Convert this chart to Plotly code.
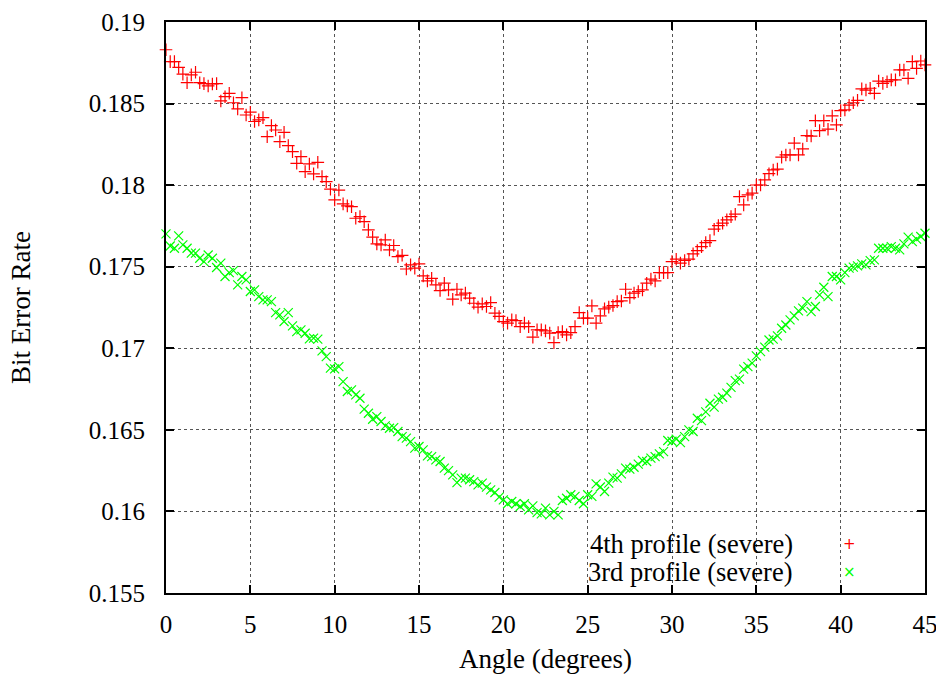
import plotly.graph_objects as go

angles = [i * 0.25 for i in range(181)]

ber_4th = [
    0.18830, 0.18757, 0.18757, 0.18722, 0.18680, 0.18628, 0.18676, 0.18692, 0.18628, 0.18622,
    0.18608, 0.18620, 0.18622, 0.18516, 0.18542, 0.18563, 0.18505, 0.18467, 0.18536, 0.18430,
    0.18447, 0.18390, 0.18400, 0.18414, 0.18297, 0.18365, 0.18338, 0.18267, 0.18324, 0.18242,
    0.18205, 0.18134, 0.18175, 0.18083, 0.18130, 0.18069, 0.18140, 0.18052, 0.18021, 0.17975,
    0.17910, 0.17970, 0.17885, 0.17873,
    0.17868, 0.17797, 0.17807, 0.17776, 0.17726, 0.17681, 0.17640, 0.17634, 0.17664, 0.17603,
    0.17630, 0.17562, 0.17570, 0.17486, 0.17511, 0.17491, 0.17517, 0.17444, 0.17413, 0.17429,
    0.17389, 0.17354, 0.17399, 0.17358, 0.17301, 0.17362, 0.17327, 0.17338, 0.17307, 0.17276,
    0.17252, 0.17272, 0.17256, 0.17280, 0.17215, 0.17195, 0.17164, 0.17154, 0.17174, 0.17170,
    0.17133, 0.17154, 0.17133, 0.17068, 0.17113, 0.17113, 0.17107, 0.17093, 0.17035, 0.17096,
    0.17102, 0.17082, 0.17096, 0.17133, 0.17219, 0.17185, 0.17185,
    0.17260, 0.17154, 0.17199, 0.17242, 0.17252, 0.17262, 0.17286, 0.17290, 0.17362, 0.17311,
    0.17338, 0.17348, 0.17358, 0.17399, 0.17424, 0.17413, 0.17464, 0.17464, 0.17464, 0.17531,
    0.17546, 0.17522, 0.17538, 0.17546, 0.17579, 0.17599, 0.17623, 0.17648, 0.17660, 0.17730,
    0.17752, 0.17767, 0.17787, 0.17807, 0.17822, 0.17930, 0.17879, 0.17940, 0.17951, 0.18001,
    0.18001, 0.18032, 0.18070, 0.18093, 0.18098, 0.18172, 0.18185, 0.18185, 0.18257, 0.18185,
    0.18222, 0.18303, 0.18301, 0.18395, 0.18334, 0.18395, 0.18343, 0.18424, 0.18369, 0.18457,
    0.18461, 0.18490, 0.18505, 0.18520, 0.18590, 0.18583, 0.18594, 0.18563, 0.18638, 0.18624,
    0.18634, 0.18645, 0.18645, 0.18706, 0.18706, 0.18655, 0.18757, 0.18716, 0.18761, 0.18737,
]

ber_3rd = [
    0.17701, 0.17627, 0.17613, 0.17689, 0.17634, 0.17613, 0.17583, 0.17583, 0.17552, 0.17531,
    0.17572, 0.17552, 0.17495, 0.17522, 0.17440, 0.17464, 0.17476, 0.17389, 0.17440, 0.17419,
    0.17348, 0.17358, 0.17317, 0.17297, 0.17297, 0.17286, 0.17219, 0.17205, 0.17164, 0.17219,
    0.17137, 0.17102, 0.17113, 0.17092, 0.17058, 0.17062, 0.17056, 0.16984, 0.16949, 0.16878,
    0.16874, 0.16888, 0.16796, 0.16735,
    0.16745, 0.16714, 0.16694, 0.16627, 0.16602, 0.16565, 0.16581, 0.16551, 0.16524, 0.16510,
    0.16514, 0.16490, 0.16459, 0.16449, 0.16428, 0.16388, 0.16398, 0.16377, 0.16341, 0.16336,
    0.16316, 0.16306, 0.16265, 0.16250, 0.16224, 0.16177, 0.16204, 0.16204, 0.16194, 0.16183,
    0.16163, 0.16173, 0.16149, 0.16132, 0.16116, 0.16088, 0.16071, 0.16047, 0.16061, 0.16047,
    0.16030, 0.16047, 0.16010, 0.16034, 0.15993, 0.15985, 0.16020, 0.15979, 0.16000, 0.15979,
    0.16067, 0.16081, 0.16102, 0.16092, 0.16067, 0.16047, 0.16102, 0.16092,
    0.16169, 0.16150, 0.16122, 0.16173, 0.16210, 0.16204, 0.16230, 0.16265, 0.16259, 0.16271,
    0.16290, 0.16312, 0.16306, 0.16327, 0.16336, 0.16353, 0.16367, 0.16435, 0.16430, 0.16443,
    0.16422, 0.16459, 0.16500, 0.16490, 0.16571, 0.16557, 0.16610, 0.16663, 0.16639, 0.16688,
    0.16700, 0.16725, 0.16760, 0.16802, 0.16811, 0.16872, 0.16888, 0.16909, 0.16953, 0.16980,
    0.17007, 0.17051, 0.17056, 0.17076, 0.17123, 0.17143, 0.17174, 0.17199, 0.17229, 0.17246,
    0.17286, 0.17225, 0.17256, 0.17327, 0.17374, 0.17317, 0.17440, 0.17440, 0.17419, 0.17464,
    0.17491, 0.17497, 0.17505, 0.17517, 0.17511, 0.17537, 0.17542, 0.17613, 0.17613, 0.17613,
    0.17623, 0.17613, 0.17603, 0.17640, 0.17681, 0.17654, 0.17669, 0.17685, 0.17705,
]

x_ticks = [0, 5, 10, 15, 20, 25, 30, 35, 40, 45]
y_ticks = [0.155, 0.16, 0.165, 0.17, 0.175, 0.18, 0.185, 0.19]
y_tick_labels = ["0.155", "0.16", "0.165", "0.17", "0.175", "0.18", "0.185", "0.19"]

series_names = ["4th profile (severe)", "3rd profile (severe)"]
series_colors = ["#ff0000", "#00ff00"]

FONT = "'Liberation Serif', 'Times New Roman', Times, 'DejaVu Serif', serif"

fig = go.Figure()
fig.add_trace(go.Scatter(
    x=angles, y=ber_4th, mode="markers", name=series_names[0],
    marker=dict(symbol="cross-thin", size=9, line=dict(color=series_colors[0], width=1.2)),
    cliponaxis=False,
))
fig.add_trace(go.Scatter(
    x=angles, y=ber_3rd, mode="markers", name=series_names[1],
    marker=dict(symbol="x-thin", size=9, line=dict(color=series_colors[1], width=1.2)),
    cliponaxis=False,
))

axis_common = dict(
    showline=True, linecolor="black", linewidth=2, mirror="ticks",
    ticks="inside", ticklen=8, tickwidth=1.5, tickcolor="black",
    showgrid=True, gridcolor="#555555", griddash="dot", gridwidth=1,
    zeroline=False, automargin=False, ticklabeloverflow="allow",
    tickfont=dict(family=FONT, size=25, color="black"),
)

fig.update_layout(
    width=936, height=675,
    margin=dict(l=166, r=11, t=22, b=82),
    paper_bgcolor="white", plot_bgcolor="white",
    font=dict(family=FONT, color="black"),
    showlegend=False,
    xaxis=dict(range=[0, 45], tickvals=x_ticks, ticklabelstandoff=8,
               title=dict(text="Angle (degrees)", font=dict(family=FONT, size=27), standoff=12),
               **axis_common),
    yaxis=dict(range=[0.155, 0.19], tickvals=y_ticks, ticktext=y_tick_labels, ticklabelstandoff=14,
               title=dict(text="Bit Error Rate", font=dict(family=FONT, size=27), standoff=50),
               **axis_common),
)

# legend (text right-aligned, key symbol to the right, as in the original)
legend_y = [0.085, 0.037]
legend_keys = ["+", "×"]
for name, col, key, ly in zip(series_names, series_colors, legend_keys, legend_y):
    fig.add_annotation(xref="paper", yref="paper", x=0.829, y=ly, text=name,
                       showarrow=False, xanchor="right", yanchor="middle",
                       font=dict(family=FONT, size=26.5, color="black"))
    fig.add_annotation(xref="paper", yref="paper", x=0.901, y=ly, text=key,
                       showarrow=False, xanchor="center", yanchor="middle",
                       font=dict(family="DejaVu Sans", size=15, color=col))

fig.write_html("out.html")
